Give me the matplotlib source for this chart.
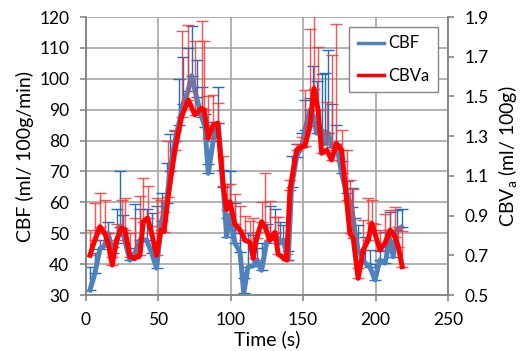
import numpy as np
import matplotlib
matplotlib.use("Agg")
import matplotlib.pyplot as plt

plt.rcParams['font.family'] = ['Lato', 'DejaVu Sans']

# CBF series (ml/100g/min), upper error only
cbf_t = [2.8, 6.2, 9.7, 13.0, 15.3, 18.8, 21.2, 23.5, 25.6, 30.4, 33.8, 37.3, 41.9, 45.4,
         48.8, 52.3, 55.7, 58.0, 61.5, 64.0, 67.2, 70.5, 73.0, 76.4, 79.9, 82.2, 84.5, 87.9,
         91.4, 94.8, 97.2, 99.4, 102.9, 106.4, 109.0, 111.9, 115.6, 117.9, 121.3, 124.8,
         127.0, 130.5, 134.0, 136.3, 139.7, 142.0, 145.5, 149.0, 151.2, 154.7, 157.0, 159.3,
         162.8, 165.0, 167.4, 169.7, 173.0, 176.6, 180.0, 183.5, 185.8, 188.0, 192.7, 196.0,
         199.6, 203.0, 206.5, 210.0, 212.2, 214.5, 218.0]
cbf = [31.6, 37, 45, 46, 50, 43.6, 47, 52, 50, 41.3, 43.6, 47.8, 47.8, 43.6,
       38.7, 54, 59.8, 70, 80, 85, 92, 96, 101, 94, 87.7, 84.5, 69.4, 80,
       85.6, 65, 48.9, 56, 46.8, 44, 30.6, 39, 39.5, 41.3, 38, 47,
       47.8, 50, 46.8, 47.8, 41.3, 65, 74.8, 78, 83.4, 89.9, 88, 82.4,
       83.4, 79, 82.4, 78, 79, 69.4, 63, 58.6, 50, 44.6, 40.3, 39.2,
       34.9, 41.3, 40.3, 47.8, 42.4, 51, 52]
cbf_err = [7.6, 6.6, 2.8, 4, 3.7, 2, 11, 18, 6, 4, 16, 10, 10, 13,
           20, 9, 13, 12, 3, 15, 15, 14, 16, 12, 9.7, 4, 3, 6,
           11.6, 5.5, 6, 14, 13, 6, 5, 11, 10, 4, 9, 6,
           11, 8, 7, 5, 3, 10, 4, 4.4, 9.6, 4, 16, 17,
           18, 23, 27, 14, 6, 4, 4, 6, 5, 8, 8.6, 5.4,
           5, 3, 10, 9, 5, 6.5, 6]

# CBVa series (ml/100g), upper error only
cbva_t = [2.8, 6.2, 9.7, 13.0, 15.4, 18.2, 21.2, 24.6, 27.0, 30.4, 33.8, 37.3, 39.6, 42.6,
          45.4, 48.8, 51.8, 54.0, 56.8, 61.5, 66.1, 70.7, 75.3, 79.9, 81.7, 84.5, 87.9, 90.9,
          94.8, 97.2, 99.4, 102.9, 106.4, 109.8, 113.3, 115.6, 117.9, 121.3, 123.6, 127.0,
          130.5, 132.8, 138.6, 140.9, 145.5, 149.0, 151.2, 154.7, 157.5, 160.4, 162.8, 166.2,
          169.7, 173.0, 176.6, 180.0, 182.3, 184.6, 188.0, 191.5, 195.0, 197.3, 199.6, 203.0,
          206.5, 210.0, 213.4, 215.7, 218.4]
cbva = [0.70, 0.777, 0.844, 0.81, 0.76, 0.651, 0.777, 0.837, 0.827, 0.693, 0.686, 0.70, 0.869, 0.888,
        0.81, 0.70, 0.827, 0.819, 0.995, 1.23, 1.398, 1.482, 1.407, 1.44, 1.43, 1.29, 1.356, 1.365,
        1.05, 0.93, 0.97, 0.858, 0.827, 0.777, 0.765, 0.686, 0.785, 0.869, 0.844, 0.775,
        0.815, 0.705, 0.676, 1.03, 1.23, 1.247, 1.25, 1.35, 1.54, 1.43, 1.214, 1.23,
        1.18, 1.263, 1.23, 0.978, 0.81, 0.785, 0.584, 0.727, 0.777, 0.861, 0.81, 0.727,
        0.76, 0.827, 0.794, 0.743, 0.643]
cbva_err = [0.127, 0.186, 0.17, 0.168, 0.05, 0.04, 0.08, 0.14, 0.16, 0.12, 0.2, 0.3, 0.22, 0.16,
            0.04, 0.29, 0.15, 0.1, 0.28, 0.1, 0.43, 0.38, 0.37, 0.44, 0.35, 0.21, 0.15, 0.1,
            0.15, 0.13, 0.09, 0.15, 0.12, 0.12, 0.11, 0.2, 0.03, 0.1, 0.27, 0.2,
            0.08, 0.19, 0.03, 0.05, 0.03, 0.05, 0.28, 0.49, 0.45, 0.32, 0.1, 0.24,
            0.53, 0.6, 0.1, 0.25, 0.27, 0.25, 0.05, 0.15, 0.21, 0.12, 0.05, 0.1,
            0.15, 0.1, 0.15, 0.1, 0.18]

fig = plt.figure(figsize=(5.27, 3.51), dpi=100)
ax = fig.add_axes([0.163, 0.1595, 0.687, 0.792])
ax2 = ax.twinx()

grid_c = '#A6A6A6'
ax.set_axisbelow(True)
ax.grid(True, color=grid_c, linewidth=1.2)

ax.errorbar(cbf_t, cbf, yerr=[np.zeros(len(cbf_err)), cbf_err], fmt='none',
            ecolor='#1F6FC0', elinewidth=1.0, capsize=4, capthick=1.0)
l1, = ax.plot(cbf_t, cbf, color='#4F81BD', lw=3.6, label='CBF')

ax2.errorbar(cbva_t, cbva, yerr=[np.zeros(len(cbva_err)), cbva_err], fmt='none',
             ecolor='#FF3333', elinewidth=1.0, capsize=4, capthick=1.0, alpha=0.85)
l2, = ax2.plot(cbva_t, cbva, color='#FF0000', lw=3.6, label='CBVa')

ax.set_xlim(0, 250)
ax.set_ylim(30, 120)
ax.set_xticks(range(0, 251, 50))
ax.set_yticks(range(30, 121, 10))
ax2.set_ylim(0.5, 1.9)
ax2.set_yticks([0.5, 0.7, 0.9, 1.1, 1.3, 1.5, 1.7, 1.9])
ax2.set_yticklabels(['0.5', '0.7', '0.9', '1.1', '1.3', '1.5', '1.7', '1.9'])

for a in (ax, ax2):
    for s in a.spines.values():
        s.set_color('#868686')
        s.set_linewidth(1.2)
    a.spines['top'].set_visible(False)
    a.tick_params(colors='#868686', labelcolor='black', labelsize=12.5, length=4,
                  width=1.2, pad=8)

ax.set_xlabel('Time (s)', fontsize=14, labelpad=2)
ax.set_ylabel('CBF (ml/ 100g/min)', fontsize=14, labelpad=4)
ax2.set_ylabel('CBV$_\\mathregular{a}$ (ml/ 100g)', fontsize=14, labelpad=6)

leg = ax2.legend(handles=[l1, l2], loc='upper right', fontsize=12, fancybox=False,
                 framealpha=1, edgecolor='#868686', borderaxespad=0.6, handlelength=1.6,
                 handletextpad=0.25, labelspacing=1.0, borderpad=0.5)
leg.get_frame().set_linewidth(1.0)
for h in leg.get_lines():
    h.set_linewidth(2.5)

fig.savefig('out.png', dpi=100)
